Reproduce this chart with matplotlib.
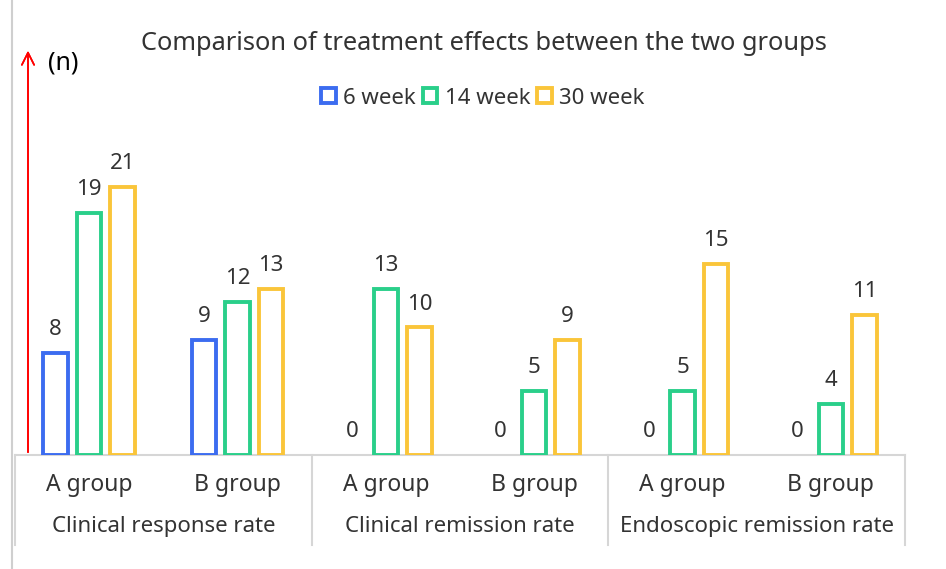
import numpy as np
import matplotlib.pyplot as plt
from matplotlib.patches import Patch
from matplotlib.lines import Line2D

plt.rcParams['font.family'] = ['Noto Sans', 'DejaVu Sans']

groups = ['A group', 'B group', 'A group', 'B group', 'A group', 'B group']
outcomes = ['Clinical response rate', 'Clinical remission rate', 'Endoscopic remission rate']
week6 = [8, 9, 0, 0, 0, 0]
week14 = [19, 12, 13, 5, 5, 4]
week30 = [21, 13, 10, 9, 15, 11]
series = ['6 week', '14 week', '30 week']
colors = ['#3C6CF0', '#2ACF8A', '#FAC53A']
txt = '#333333'

W, H = 946, 569
fig = plt.figure(figsize=(W / 100, H / 100), dpi=100)
ax = fig.add_axes([15 / W, 1 - 455 / H, 890 / W, 407 / H])

x = np.arange(len(groups))
off = 0.226
bw = 0.165
for k, vals in enumerate([week6, week14, week30]):
    xs = x + (k - 1) * off
    hs = np.array(vals, dtype=float)
    mask = hs > 0
    ax.bar(xs[mask], hs[mask], width=bw, facecolor='white',
           edgecolor=colors[k], linewidth=2.8, zorder=3)
    for xi, v in zip(xs, vals):
        ax.text(xi, v + 1.0, str(v), ha='center', va='bottom',
                fontsize=16, color=txt)

ax.set_xlim(-0.5, len(groups) - 0.5)
ax.set_ylim(0, 31.9)
for s in ['top', 'right', 'left']:
    ax.spines[s].set_visible(False)
ax.spines['bottom'].set_color('#d6d6d6')
ax.spines['bottom'].set_linewidth(1.5)
ax.set_yticks([])
ax.set_xticks(x)
ax.set_xticklabels(groups, fontsize=16.5, color=txt)
ax.tick_params(axis='x', length=0, pad=13)

# second-level category labels and separators
for i, name in enumerate(outcomes):
    ax.text(2 * i + 0.5, -0.176, name, transform=ax.get_xaxis_transform(),
            ha='center', va='center', fontsize=16, color=txt)
for b in [-0.5, 1.5, 3.5, 5.5]:
    ax.add_line(Line2D([b, b], [0, -0.221], transform=ax.get_xaxis_transform(),
                       color='#d6d6d6', lw=1.5, clip_on=False))

# left frame line and red arrow
fig.add_artist(Line2D([12 / W, 12 / W], [0, 1], color='#cfcfcf', lw=1.5))
fig.add_artist(plt.annotate('', xy=(28 / W, 1 - 48 / H), xytext=(28 / W, 1 - 455 / H),
                            xycoords='figure fraction', textcoords='figure fraction',
                            arrowprops=dict(arrowstyle='->', color='red', lw=1.2,
                                            mutation_scale=22)))
fig.text(48 / W, 1 - 63 / H, '(n)', fontsize=18, color='black', va='center', ha='left')

fig.text(484 / W, 1 - 43 / H, 'Comparison of treatment effects between the two groups',
         fontsize=18.3, color=txt, ha='center', va='center')

handles = [Patch(facecolor='white', edgecolor=c, linewidth=2.8) for c in colors]
fig.legend(handles, series, loc='center', bbox_to_anchor=(483 / W, 1 - 98 / H),
           ncol=3, frameon=False, fontsize=16, handlelength=0.65, handleheight=0.65,
           handletextpad=0.35, columnspacing=0.3, labelcolor=txt)

fig.savefig('out.png', dpi=100)
